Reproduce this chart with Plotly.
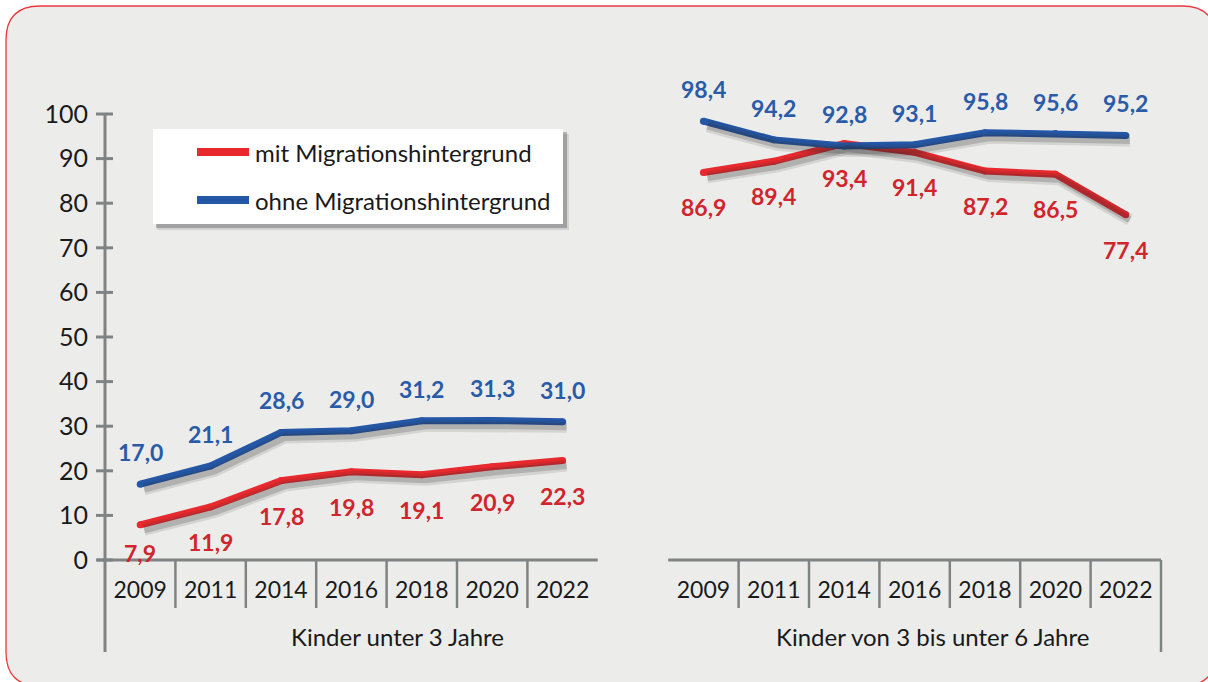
import plotly.graph_objects as go

# Betreuungsquoten (%) nach Migrationshintergrund
years = ['2009', '2011', '2014', '2016', '2018', '2020', '2022']
group_titles = ['Kinder unter 3 Jahre', 'Kinder von 3 bis unter 6 Jahre']
series_names = ['mit Migrationshintergrund', 'ohne Migrationshintergrund']

mit_unter3 = [7.9, 11.9, 17.8, 19.8, 19.1, 20.9, 22.3]
ohne_unter3 = [17.0, 21.1, 28.6, 29.0, 31.2, 31.3, 31.0]
mit_3bis6 = [86.9, 89.4, 93.4, 91.4, 87.2, 86.5, 77.4]
ohne_3bis6 = [98.4, 94.2, 92.8, 93.1, 95.8, 95.6, 95.2]

y_ticks = list(range(0, 101, 10))

# page geometry (pixels)
W, H = 1208, 682
L, R, T, B = 105, 47, 114, 122
PW, PH = W - L - R, H - T - B

RED = '#e8292e'
BLUE = '#2557a7'
RED_TXT = '#d0252d'
BLUE_TXT = '#2a5ba8'
AXIS = '#808383'
FONT = 'Lato'

n = len(years)
x_groups = [list(range(n)), list(range(n + 1, 2 * n + 1))]  # one empty slot between groups
x_min, x_max = -0.5, 2 * n + 0.5


def px(x):
    return (x - L) / PW


def py(y):
    return (H - B - y) / PH


def xp(v):
    # data x -> paper x
    return (v - x_min) / (x_max - x_min)


fig = go.Figure()

data = [(mit_unter3, ohne_unter3), (mit_3bis6, ohne_3bis6)]

# soft shadows drawn on shifted overlay axes
for g, (mit, ohne) in enumerate(data):
    for vals in (mit, ohne):
        fig.add_trace(go.Scatter(x=x_groups[g], y=vals, mode='lines', xaxis='x2', yaxis='y2',
                                 line=dict(color='rgba(40,40,40,0.12)', width=12),
                                 hoverinfo='skip', showlegend=False))
        fig.add_trace(go.Scatter(x=x_groups[g], y=vals, mode='lines', xaxis='x2', yaxis='y2',
                                 line=dict(color='rgba(40,40,40,0.2)', width=7),
                                 hoverinfo='skip', showlegend=False))

for g, (mit, ohne) in enumerate(data):
    fig.add_trace(go.Scatter(x=x_groups[g], y=mit, mode='lines+markers', name=series_names[0],
                             line=dict(color=RED, width=7), marker=dict(color=RED, size=7),
                             showlegend=False))
for g, (mit, ohne) in enumerate(data):
    fig.add_trace(go.Scatter(x=x_groups[g], y=ohne, mode='lines+markers', name=series_names[1],
                             line=dict(color=BLUE, width=7), marker=dict(color=BLUE, size=7),
                             showlegend=False))

# value labels
annotations = []
for g, (mit, ohne) in enumerate(data):
    for i, x in enumerate(x_groups[g]):
        annotations.append(dict(x=x, y=ohne[i], text=f'{ohne[i]:.1f}'.replace('.', ','),
                                showarrow=False, yshift=32, xanchor='center', yanchor='middle',
                                font=dict(family=FONT, size=23, color=BLUE_TXT, weight='bold')))
        shift = -28 if mit[i] < 10 else -35
        annotations.append(dict(x=x, y=mit[i], text=f'{mit[i]:.1f}'.replace('.', ','),
                                showarrow=False, yshift=shift, xanchor='center', yanchor='middle',
                                font=dict(family=FONT, size=23, color=RED_TXT, weight='bold')))

# group titles
for title, cx in zip(group_titles, [397, 932]):
    annotations.append(dict(x=px(cx), y=py(636), xref='paper', yref='paper', text=title,
                            xanchor='center', yanchor='middle', showarrow=False,
                            font=dict(family=FONT, size=24, color='#1a1a1a')))

# legend (hand drawn box)
legend_rows = [(series_names[0], RED, 152), (series_names[1], BLUE, 200)]
for name, col, yy in legend_rows:
    annotations.append(dict(x=px(253), y=py(yy), xref='paper', yref='paper', text=name,
                            xanchor='left', yanchor='middle', showarrow=False,
                            font=dict(family=FONT, size=24, color='#1a1a1a')))

shapes = []

# rounded background panel
x0, y0, x1, y1, r = 6, 6, 1216, 686, 34
pts = [('M', x0 + r, y0), ('L', x1 - r, y0), ('Q', x1, y0, x1, y0 + r), ('L', x1, y1 - r),
       ('Q', x1, y1, x1 - r, y1), ('L', x0 + r, y1), ('Q', x0, y1, x0, y1 - r),
       ('L', x0, y0 + r), ('Q', x0, y0, x0 + r, y0)]
path = ''
for p in pts:
    coords = p[1:]
    path += p[0] + ' ' + ' '.join(
        f'{px(coords[k]):.5f},{py(coords[k + 1]):.5f}' for k in range(0, len(coords), 2)) + ' '
shapes.append(dict(type='path', path=path + 'Z', xref='paper', yref='paper', layer='below',
                   fillcolor='#ecedeb', line=dict(color='#e8383e', width=1.3)))

# legend box + shadow
shapes.append(dict(type='rect', xref='paper', yref='paper', layer='below',
                   x0=px(157), x1=px(569), y0=py(134), y1=py(230),
                   fillcolor='rgba(60,60,60,0.15)', line=dict(width=0)))
shapes.append(dict(type='rect', xref='paper', yref='paper', layer='below',
                   x0=px(156), x1=px(567), y0=py(132), y1=py(228),
                   fillcolor='rgba(50,50,50,0.3)', line=dict(width=0)))
shapes.append(dict(type='rect', xref='paper', yref='paper', layer='below',
                   x0=px(153), x1=px(563), y0=py(129), y1=py(224),
                   fillcolor='white', line=dict(width=0)))
for name, col, yy in legend_rows:
    shapes.append(dict(type='line', xref='paper', yref='paper', x0=px(197), x1=px(249),
                       y0=py(yy), y1=py(yy), line=dict(color=col, width=8)))

# y axis line and crossing ticks
shapes.append(dict(type='line', xref='paper', yref='paper', x0=0, x1=0, y0=1, y1=py(652),
                   line=dict(color=AXIS, width=3)))
for v in y_ticks:
    yy = (v - y_ticks[0]) / (y_ticks[-1] - y_ticks[0])
    shapes.append(dict(type='line', xref='paper', yref='paper', x0=px(96), x1=px(113),
                       y0=yy, y1=yy, line=dict(color=AXIS, width=3)))

# x axis baselines and category separators
shapes.append(dict(type='line', xref='paper', yref='paper', x0=px(97), x1=xp(x_groups[0][-1] + 0.5),
                   y0=0, y1=0, line=dict(color=AXIS, width=3)))
shapes.append(dict(type='line', xref='paper', yref='paper', x0=xp(x_groups[1][0] - 0.5),
                   x1=xp(x_groups[1][-1] + 0.5), y0=0, y1=0, line=dict(color=AXIS, width=3)))
for xs in x_groups:
    for x in xs[:-1]:
        shapes.append(dict(type='line', xref='paper', yref='paper', x0=xp(x + 0.5), x1=xp(x + 0.5),
                           y0=0, y1=py(608), line=dict(color=AXIS, width=2.5)))
shapes.append(dict(type='line', xref='paper', yref='paper', x0=xp(x_groups[1][-1] + 0.5),
                   x1=xp(x_groups[1][-1] + 0.5), y0=0, y1=py(652), line=dict(color=AXIS, width=2.5)))

sx = 4 / PW * (x_max - x_min)
sy = 5 / PH * 100

fig.update_layout(
    width=W, height=H,
    margin=dict(l=L, r=R, t=T, b=B, autoexpand=False),
    paper_bgcolor='white',
    plot_bgcolor='rgba(0,0,0,0)',
    showlegend=False,
    xaxis=dict(range=[x_min, x_max], showgrid=False, zeroline=False, showline=False,
               tickvals=x_groups[0] + x_groups[1], ticktext=years + years, ticks='',
               ticklabelstandoff=14, tickfont=dict(family=FONT, size=23, color='#1a1a1a')),
    yaxis=dict(range=[0, 100], showgrid=False, zeroline=False, showline=False,
               tickvals=y_ticks, ticks='', ticklabelstandoff=16,
               tickfont=dict(family=FONT, size=25, color='#1a1a1a')),
    xaxis2=dict(range=[x_min - sx, x_max - sx], overlaying='x', visible=False),
    yaxis2=dict(range=[sy, 100 + sy], overlaying='y', visible=False),
    shapes=shapes,
    annotations=annotations,
)

# page body has a default 8px margin; remove it so the figure sits at the window origin
fig.write_html('out.html', config={'displayModeBar': False},
               post_script="document.body.style.margin='0';")
